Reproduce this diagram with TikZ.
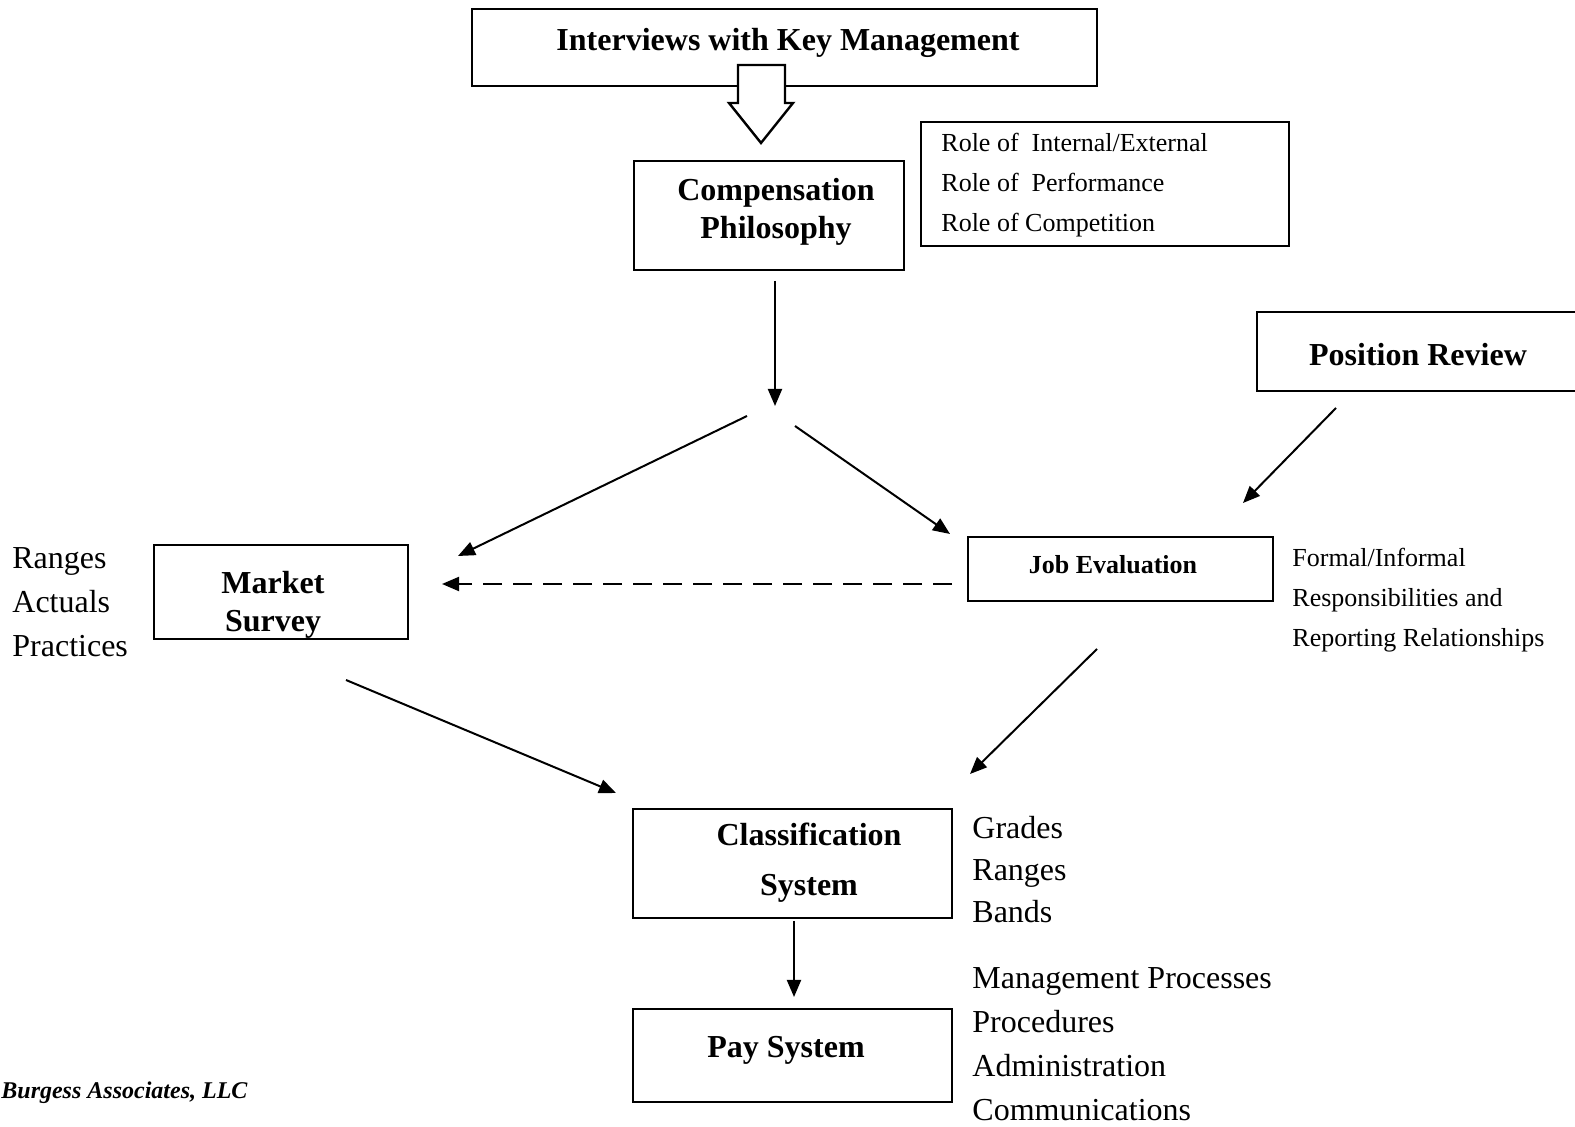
\documentclass[tikz,border=0pt]{standalone}
\usepackage{fontspec}
\setmainfont{Liberation Serif}
\usetikzlibrary{arrows.meta,fit}
\begin{document}
\begin{tikzpicture}[x=0.5pt,y=-0.5pt,
  box/.style={draw, line width=1.2pt, inner sep=0pt},
  bigb/.style={font=\fontsize{16}{19}\selectfont\bfseries, align=center, inner sep=0pt},
  smallb/.style={font=\fontsize{13}{16}\selectfont\bfseries, align=center, inner sep=0pt},
  side/.style={font=\fontsize{16}{22}\selectfont, align=left, inner sep=0pt, anchor=west},
  sides/.style={font=\fontsize{13}{20}\selectfont, align=left, inner sep=0pt, anchor=west},
  arr/.style={line width=1pt, -{Triangle[length=8.5pt,width=7pt]}},
]
\useasboundingbox (0,0) rectangle (1575,1127);

% boxes
\node[box, fit={(472,9) (1097,86)}] (int) {};
\node[box, fit={(634,161) (904,270)}] (comp) {};
\node[box, fit={(921,122) (1289,246)}] (role) {};
\node[box, fit={(1257,312) (1600,391)}] (pos) {};
\node[box, fit={(154,545) (408,639)}] (mkt) {};
\node[box, fit={(968,537) (1273,601)}] (job) {};
\node[box, fit={(633,809) (952,918)}] (cls) {};
\node[box, fit={(633,1009) (952,1102)}] (pay) {};

% box texts
\node[bigb] (int-t) at (788,43) {Interviews with Key Management};
\node[bigb] (comp-t) at (776,212) {Compensation\\Philosophy};
\node[sides] (role-t) at (941,185) {Role of~~Internal/External\\Role of~~Performance\\Role of Competition};
\node[bigb] (pos-t) at (1418,355) {Position Review};
\node[bigb] (mkt-t) at (273,605) {Market\\Survey};
\node[smallb] (job-t) at (1113,565) {Job Evaluation};
\node[bigb, font=\fontsize{16}{25}\selectfont\bfseries] (cls-t) at (809,863) {Classification\\System};
\node[bigb] (pay-t) at (786,1050) {Pay System};

% side labels
\node[side] (lbl-mkt) at (12,602) {Ranges\\Actuals\\Practices};
\node[sides] (lbl-job) at (1292,600) {Formal/Informal\\Responsibilities and\\Reporting Relationships};
\node[side, font=\fontsize{16}{21}\selectfont] (lbl-cls) at (972,870) {Grades\\Ranges\\Bands};
\node[side] (lbl-pay) at (972,1044) {Management Processes\\Procedures\\Administration\\Communications};
\node[inner sep=0pt, anchor=west, font=\fontsize{12}{14}\selectfont\bfseries\itshape] (credit) at (1,1093) {Burgess Associates, LLC};

% hollow block arrow
\draw[line width=1.2pt, fill=white, line join=miter]
  (738,65) -- (785,65) -- (785,103) -- (793,103) -- (761,143) -- (729,103) -- (738,103) -- cycle;

% connector end points
\coordinate (a1s) at (775,281); \coordinate (a1e) at (775,406);
\coordinate (a2s) at (747,416); \coordinate (a2e) at (458,556);
\coordinate (a3s) at (795,426); \coordinate (a3e) at (950,534);
\coordinate (a4s) at (1336,408); \coordinate (a4e) at (1243,503);
\coordinate (a5s) at (952,584); \coordinate (a5e) at (442,584);
\coordinate (a6s) at (346,680); \coordinate (a6e) at (616,793);
\coordinate (a7s) at (1097,649); \coordinate (a7e) at (970,774);
\coordinate (a8s) at (794,921); \coordinate (a8e) at (794,997);

\draw[arr] (a1s) -- (a1e);
\draw[arr] (a2s) -- (a2e);
\draw[arr] (a3s) -- (a3e);
\draw[arr] (a4s) -- (a4e);
\draw[arr, dash pattern=on 9.5pt off 5.5pt] (a5s) -- (a5e);
\draw[arr] (a6s) -- (a6e);
\draw[arr] (a7s) -- (a7e);
\draw[arr] (a8s) -- (a8e);
\end{tikzpicture}
\end{document}
